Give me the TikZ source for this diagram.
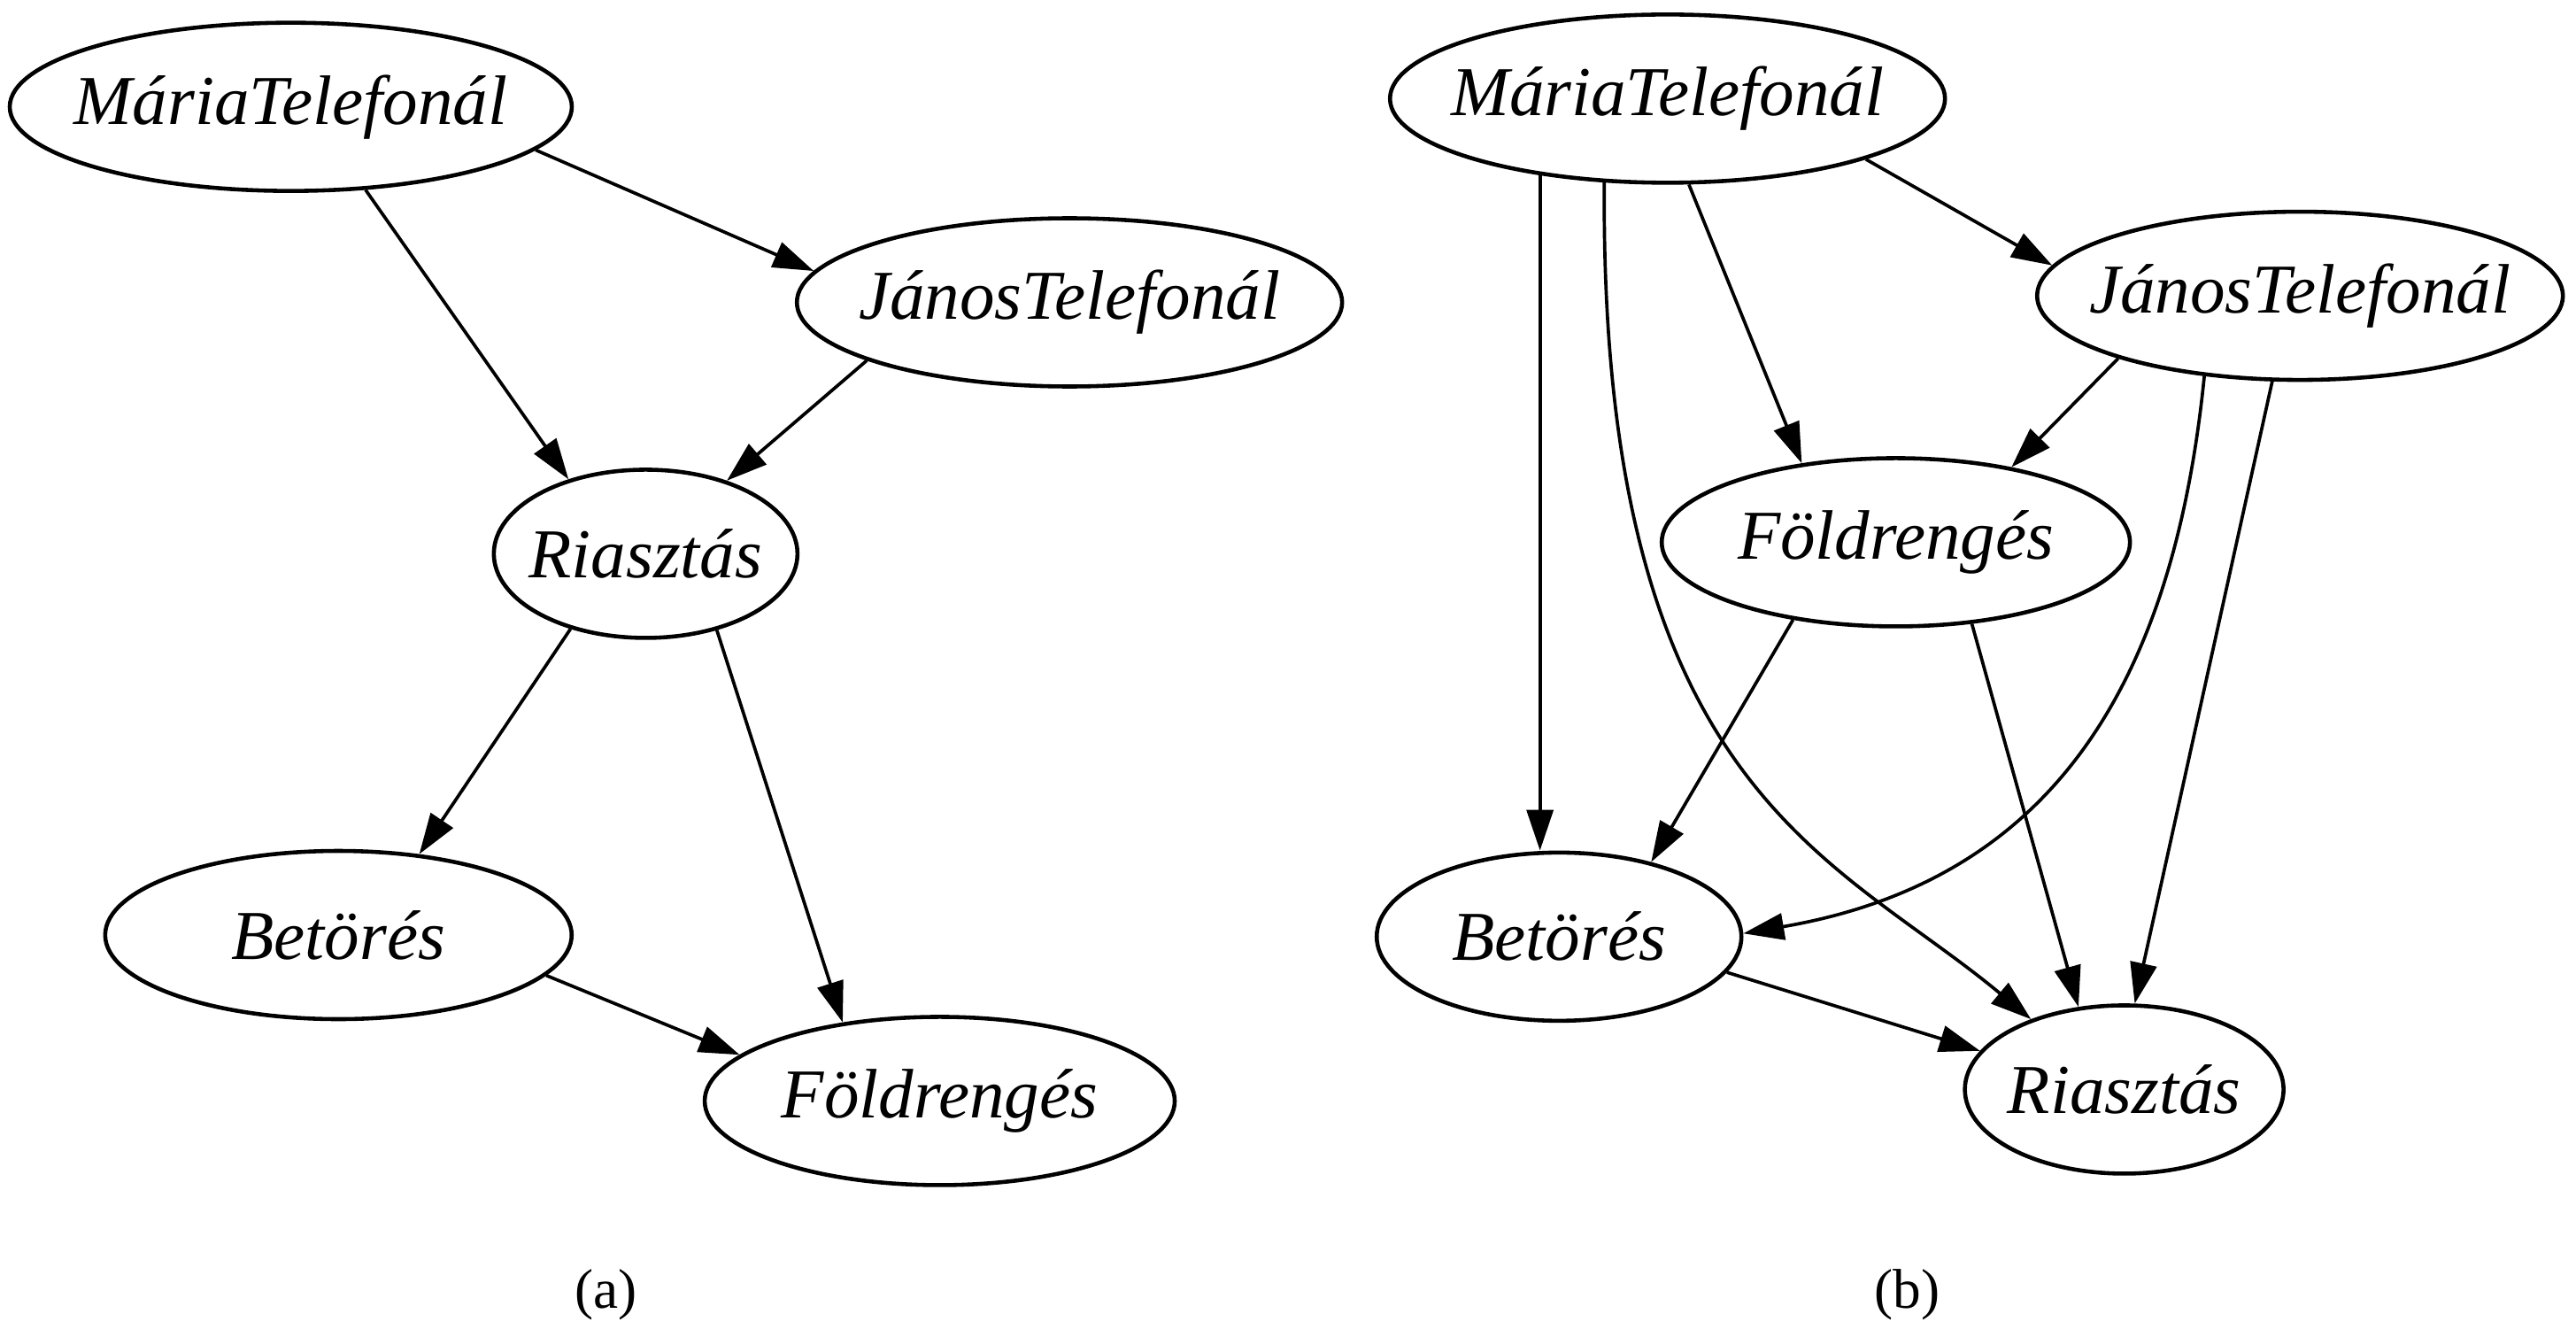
\documentclass[tikz,border=0pt]{standalone}
\usepackage{fontspec}
\setmainfont{Liberation Serif}
\usetikzlibrary{shapes.geometric, arrows.meta}

\newcommand{\nm}[1]{\makebox[0pt]{#1}}

\begin{document}
\begin{tikzpicture}[x=0.1856mm, y=-0.1856mm,
	var/.style={draw, ellipse, line width=1.3pt, inner sep=0pt, minimum height=19mm, font=\fontsize{22.5}{27}\selectfont\itshape},
	link/.style={-{Triangle[length=4.6mm, width=3mm]}, line width=1.05pt},
	caption/.style={font=\fontsize{18}{22}\selectfont}]
	\useasboundingbox (0,0) rectangle (1568,813.6);

	% (a)
	\node[var, minimum width=63.5mm] (mariaA) at (177,65) {\nm{MáriaTelefonál}};
	\node[var, minimum width=61.6mm] (janosA) at (651,184) {\nm{JánosTelefonál}};
	\node[var, minimum width=34.3mm] (riasztasA) at (393,337) {\nm{Riasztás}};
	\node[var, minimum width=52.7mm] (betoresA) at (206,569) {\nm{Betörés}};
	\node[var, minimum width=53.1mm] (foldA) at (572,670) {\nm{Földrengés}};

	\draw[link] (mariaA.-10) -- (janosA.173);
	\draw[link] (mariaA.-48) -- (riasztasA.136);
	\draw[link] (janosA.196) -- (riasztasA.42);
	\draw[link] (riasztasA.225) -- (betoresA.45);
	\draw[link] (riasztasA.-47) -- (foldA.141);
	\draw[link] (betoresA.-11) -- (foldA.167);

	\node[caption] (capA) at (369,788) {(a)};

	% (b)
	\node[var, minimum width=62.7mm] (mariaB) at (1015,60) {\nm{MáriaTelefonál}};
	\node[var, minimum width=59.4mm] (janosB) at (1400,180) {\nm{JánosTelefonál}};
	\node[var, minimum width=52.9mm] (foldB) at (1154,330) {\nm{Földrengés}};
	\node[var, minimum width=41.2mm] (betoresB) at (949,570) {\nm{Betörés}};
	\node[var, minimum width=36.0mm] (riasztasB) at (1293,663) {\nm{Riasztás}};

	\draw[link] (mariaB.211) -- (mariaB.211 |- betoresB.north);
	\draw[link] (mariaB.233) .. controls +(-3,370) and +(-120,-100) .. (riasztasB.143);
	\draw[link] (mariaB.-76) -- (foldB.140);
	\draw[link] (mariaB.-17) -- (janosB.173);
	\draw[link] (janosB.199) -- (foldB.33);
	\draw[link] (janosB.220) .. controls +(-19,189) and +(187,-32) .. (betoresB.1);
	\draw[link] (janosB.252) -- (riasztasB.83);
	\draw[link] (foldB.217) -- (betoresB.39);
	\draw[link] (foldB.-47) -- (riasztasB.119);
	\draw[link] (betoresB.-12) -- (riasztasB.165);

	\node[caption] (capB) at (1161,788) {(b)};

\end{tikzpicture}
\end{document}
